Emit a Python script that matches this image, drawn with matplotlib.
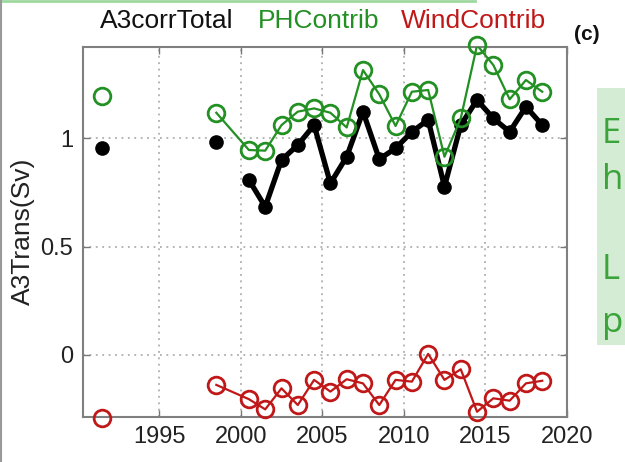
import numpy as np
import matplotlib
matplotlib.use("Agg")
import matplotlib.pyplot as plt
from matplotlib.patches import Rectangle
from matplotlib.lines import Line2D

plt.rcParams['font.family'] = ['Liberation Sans', 'DejaVu Sans']

# mid-year values (Sv)
years = [1991.5, 1998.5, 2000.5, 2001.5, 2002.5, 2003.5, 2004.5, 2005.5, 2006.5,
         2007.5, 2008.5, 2009.5, 2010.5, 2011.5, 2012.5, 2013.5, 2014.5, 2015.5,
         2016.5, 2017.5, 2018.5]
total = [0.954, 0.985, 0.808, 0.684, 0.900, 0.969, 1.061, 0.792, 0.915,
         1.123, 0.904, 0.954, 1.030, 1.085, 0.777, 1.061, 1.177, 1.092,
         1.030, 1.146, 1.061]
ph = [1.197, 1.118, 0.946, 0.943, 1.061, 1.123, 1.138, 1.118, 1.050,
      1.315, 1.203, 1.057, 1.215, 1.223, 0.915, 1.092, 1.430, 1.338,
      1.180, 1.269, 1.215]
wind = [-0.290, -0.138, -0.204, -0.251, -0.154, -0.231, -0.115, -0.169, -0.112,
        -0.131, -0.231, -0.115, -0.123, 0.005, -0.115, -0.066, -0.262, -0.200,
        -0.211, -0.131, -0.119]

green = '#229022'
red = '#c01818'

fig = plt.figure(figsize=(6.25, 4.62), dpi=100)
ax = fig.add_axes([0.1323, 0.098, 0.7744, 0.801])

# black line starts in 2000, contributions are joined from 1998
ax.plot(years[2:], total[2:], color='black', lw=3.8, zorder=3)
ax.plot(years, total, 'o', color='black', ms=9.5, zorder=3)
ax.plot(years[1:], ph[1:], color=green, lw=1.6, zorder=4)
ax.plot(years, ph, 'o', mfc='none', mec=green, mew=2, ms=12, zorder=4, clip_on=False)
ax.plot(years[1:], wind[1:], color=red, lw=1.6, zorder=4)
ax.plot(years, wind, 'o', mfc='none', mec=red, mew=2, ms=12, zorder=4, clip_on=False)

ax.set_xlim(1990.3, 2020)
ax.set_ylim(-0.285, 1.423)
ax.set_xticks([1995, 2000, 2005, 2010, 2015, 2020])
ax.set_yticks([0, 0.5, 1])
ax.set_yticklabels(['0', '0.5', '1'])
ax.grid(True, color='#a0a0a0', ls=(0, (1.2, 3)), lw=1.1)
ax.tick_params(direction='in', top=True, right=True, length=5, width=1,
               color='#777777', labelsize=17, labelcolor='#222222', pad=7)
for s in ax.spines.values():
    s.set_color('#808080')
    s.set_linewidth(1.5)
ax.set_ylabel('A3Trans(Sv)', fontsize=19, color='#222222', labelpad=4)

fig.text(0.16, 0.955, 'A3corrTotal', fontsize=19, color='#111111', ha='left', va='center')
fig.text(0.413, 0.955, 'PHContrib', fontsize=19, color=green, ha='left', va='center')
fig.text(0.642, 0.955, 'WindContrib', fontsize=19, color=red, ha='left', va='center')
fig.text(0.918, 0.925, '(c)', fontsize=15, fontweight='bold', color='#111111', ha='left', va='center')

# side note box running off the slide
fig.patches.append(Rectangle((0.955, 0.253), 0.1, 0.557, transform=fig.transFigure,
                             facecolor='#d4ebd4', edgecolor='none', zorder=0))
for txt, yy in [('E', 0.71), ('h', 0.61), ('L', 0.415), ('p', 0.30)]:
    fig.text(0.963, yy, txt, fontsize=25, color='#3aa33a', family='Open Sans',
             ha='left', va='center')
fig.lines.append(Line2D([0, 0.76], [0.998, 0.998], transform=fig.transFigure,
                        color='#9fd89f', lw=2))
fig.lines.append(Line2D([0.002, 0.002], [0, 1], transform=fig.transFigure,
                        color='#999999', lw=1.5))

fig.savefig('out.png', dpi=100)
